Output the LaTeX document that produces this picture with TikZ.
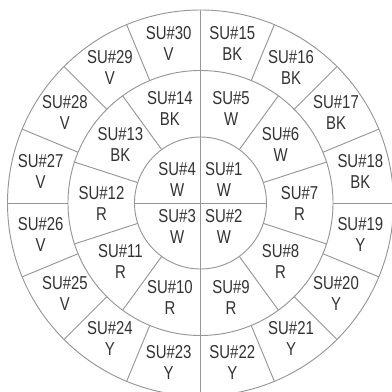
\documentclass[tikz,border=0pt]{standalone}
\usepackage{fontspec}
\setmainfont[FakeStretch=0.8]{Liberation Sans}
\usepackage{tikz}
\definecolor{ringgray}{RGB}{150,150,150}
\definecolor{textgray}{RGB}{50,50,50}
\tikzset{
  ring/.style={draw=ringgray, line width=0.7pt},
  divider/.style={draw=ringgray, line width=0.7pt},
  sulabel/.style={align=center, inner sep=0pt, text=textgray,
    font=\fontsize{14}{15.75}\selectfont}
}

\begin{document}
\begin{tikzpicture}[x=0.75pt, y=0.75pt]
\useasboundingbox (-200.5,-189) rectangle (191.5,203);
\clip (-200.5,-189) rectangle (191.5,203);

% rings
\draw[ring] (0,0) circle (66);
\draw[ring] (0,0) circle (132.5);
\draw[ring] (0,0) circle (193);

% dividers
\draw[divider] (90:193) -- (-90:193);
\draw[divider] (-66,0) -- (66,0);
\draw[divider] (132.5,0) -- (193,0);
\draw[divider] (-132.5,0) -- (-193,0);
\foreach \a in {54,18,-18,-54,-126,-162,162,126}
  \draw[divider] (\a:66) -- (\a:132.5);
\foreach \a in {22.5,45,67.5,112.5,135,157.5,202.5,225,247.5,292.5,315,337.5}
  \draw[divider] (\a:132.5) -- (\a:193);

% inner ring
\node[sulabel] (su1) at (45:33) {SU\#1\\W};
\node[sulabel] (su2) at (-45:33) {SU\#2\\W};
\node[sulabel] (su3) at (-135:33) {SU\#3\\W};
\node[sulabel] (su4) at (135:33) {SU\#4\\W};

% middle ring
\node[sulabel] (su5) at (72:99) {SU\#5\\W};
\node[sulabel] (su6) at (36:99) {SU\#6\\W};
\node[sulabel] (su7) at (0:99) {SU\#7\\R};
\node[sulabel] (su8) at (-36:99) {SU\#8\\R};
\node[sulabel] (su9) at (-72:99) {SU\#9\\R};
\node[sulabel] (su10) at (-108:99) {SU\#10\\R};
\node[sulabel] (su11) at (-144:99) {SU\#11\\R};
\node[sulabel] (su12) at (180:99) {SU\#12\\R};
\node[sulabel] (su13) at (144:99) {SU\#13\\BK};
\node[sulabel] (su14) at (108:99) {SU\#14\\BK};

% outer ring
\node[sulabel] (su15) at (78.75:163) {SU\#15\\BK};
\node[sulabel] (su16) at (56.25:163) {SU\#16\\BK};
\node[sulabel] (su17) at (33.75:163) {SU\#17\\BK};
\node[sulabel] (su18) at (11.25:163) {SU\#18\\BK};
\node[sulabel] (su19) at (-11.25:163) {SU\#19\\Y};
\node[sulabel] (su20) at (-33.75:163) {SU\#20\\Y};
\node[sulabel] (su21) at (-56.25:163) {SU\#21\\Y};
\node[sulabel] (su22) at (-78.75:163) {SU\#22\\Y};
\node[sulabel] (su23) at (-101.25:163) {SU\#23\\Y};
\node[sulabel] (su24) at (-123.75:163) {SU\#24\\Y};
\node[sulabel] (su25) at (-146.25:163) {SU\#25\\V};
\node[sulabel] (su26) at (-168.75:163) {SU\#26\\V};
\node[sulabel] (su27) at (168.75:163) {SU\#27\\V};
\node[sulabel] (su28) at (146.25:163) {SU\#28\\V};
\node[sulabel] (su29) at (123.75:163) {SU\#29\\V};
\node[sulabel] (su30) at (101.25:163) {SU\#30\\V};
\end{tikzpicture}
\end{document}
